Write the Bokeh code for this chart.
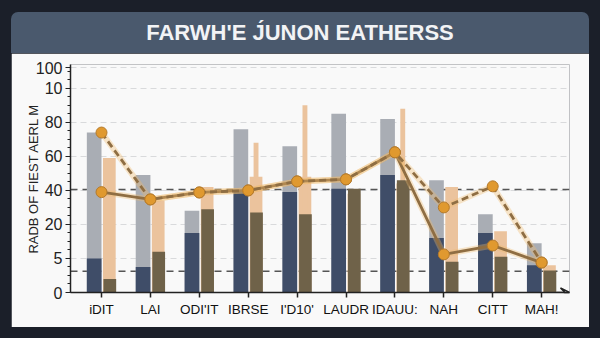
import numpy as np
from bokeh.plotting import figure
from bokeh.layouts import column
from bokeh.models import (Range1d, FixedTicker, Span, Arrow, VeeHead, Div)
from bokeh.embed import file_html
from bokeh.resources import INLINE

# ---------------- data ----------------
title_text = "FARWH'E J\u0301UNON EATHERSS"
y_title = "RADB OF FIEST AERL M"
categories = ["iDIT", "LAI", "ODI'IT", "IBRSE", "I'D10'", "LAUDR", "IDAUU:", "NAH", "CITT", "MAH!"]
gray_vals = [94, 69, 48, 96, 86, 105, 102, 66, 46, 29]
navy_vals = [20, 15, 35, 59, 59, 61, 69, 32, 35, 16]
peach_vals = [79, 54, 62, 68, 68, 58, 64, 62, 36, 16]
peach_peaks = [0, 0, 0, 88, 110, 0, 108, 0, 0, 0]
olive_vals = [8, 24, 49, 47, 46, 61, 66, 18, 21, 13]
line_a = [94, 54.7, 58.8, 60, 65.3, 66.5, 82.4, 50, 62.4, 17.6]
line_b = [59, 54.7, 58.8, 60, 65.3, 66.5, 82.4, 22.4, 27.6, 17.6]
y_tick_vals = [0, 20, 40, 60, 80, 100, 120, 132]
y_tick_labels = ["0", "5", "20", "40", "60", "80", "10", "100"]
ref_levels = [60.5, 12.5]

# ---------------- style ----------------
DARK_BG = "#1b1f29"
CARD = "#f9f9f9"
BAR_TITLE = "#4a596d"
GRAY = "#a9adb4"
NAVY = "#3f4d68"
PEACH = "#ebc39d"
OLIVE = "#6f6249"
LINE = "#8f6e43"
DOT = "#e0992f"

idx = np.arange(len(categories))
left_x = idx - 0.15
right_x = idx + 0.15

title_div = Div(text=title_text, width=578, height=41, margin=(12, 11, 0, 11),
                styles={"background-color": BAR_TITLE, "color": "#f2f3f5",
                        "font-family": "Liberation Sans", "font-size": "22px",
                        "font-weight": "bold", "text-align": "center",
                        "line-height": "41px", "border-radius": "7px 7px 0 0"})

p = figure(width=578, height=274, output_backend="svg", toolbar_location=None,
           x_range=Range1d(-0.634, 9.57), y_range=Range1d(0, 134),
           min_border_left=59, min_border_right=20, min_border_top=11, min_border_bottom=35,
           margin=(0, 11, 11, 11))
p.border_fill_color = CARD
p.background_fill_color = CARD
p.outline_line_color = None

# reference lines
for lv in ref_levels:
    p.add_layout(Span(location=lv, dimension="width", line_color="#555555", line_width=1.5,
                      line_dash="7 5", level="underlay"))

# bars
p.vbar(x=left_x, top=gray_vals, width=0.3, fill_color=GRAY, line_color=None)
p.vbar(x=left_x, top=navy_vals, width=0.3, fill_color=NAVY, line_color=None)
p.vbar(x=right_x + 0.01, top=peach_vals, width=0.26, fill_color=PEACH, line_color=None)
pk = [i for i, v in enumerate(peach_peaks) if v > 0]
p.vbar(x=[idx[i] + 0.16 for i in pk], top=[peach_peaks[i] for i in pk], width=0.1,
       fill_color=PEACH, line_color=None)
p.vbar(x=right_x + 0.02, top=olive_vals, width=0.26, fill_color=OLIVE, line_color=None)

# lines
for series, dash in ((line_b, "solid"), (line_a, "7 4")):
    p.line(idx, series, line_color="#f2b96a", line_width=6, line_alpha=0.35)
    p.line(idx, series, line_color=LINE, line_width=2.8, line_dash=dash)
    p.scatter(idx, series, size=11, fill_color=DOT, line_color="#b47a2c", line_width=1)

# axes
p.xaxis.ticker = FixedTicker(ticks=list(idx))
p.xaxis.major_label_overrides = {int(i): c for i, c in zip(idx, categories)}
p.xaxis.major_label_text_font = "Liberation Sans"
p.xaxis.major_label_text_font_size = "13.5px"
p.xaxis.major_label_text_color = "#111111"
p.xaxis.major_label_standoff = 4
p.xaxis.major_tick_out = 5
p.xaxis.major_tick_in = 0
p.xaxis.minor_tick_line_color = None
p.xaxis.axis_line_width = 1.5
p.xaxis.axis_line_color = "#222222"
p.xaxis.major_tick_line_color = "#222222"
p.xaxis.major_tick_line_width = 1.5

p.yaxis.ticker = FixedTicker(ticks=y_tick_vals, minor_ticks=list(range(0, 134, 5)))
p.yaxis.major_label_overrides = {v: l for v, l in zip(y_tick_vals, y_tick_labels)}
p.yaxis.major_label_text_font = "Liberation Sans"
p.yaxis.major_label_text_font_size = "16px"
p.yaxis.major_label_text_color = "#222222"
p.yaxis.major_label_standoff = 3
p.yaxis.major_tick_out = 5
p.yaxis.major_tick_in = 0
p.yaxis.minor_tick_out = 3
p.yaxis.minor_tick_in = 0
p.yaxis.axis_line_width = 1.5
p.yaxis.axis_line_color = "#222222"
p.yaxis.major_tick_line_color = "#222222"
p.yaxis.minor_tick_line_color = "#222222"
p.yaxis.axis_label = y_title
p.yaxis.axis_label_text_font = "Liberation Sans"
p.yaxis.axis_label_text_font_style = "normal"
p.yaxis.axis_label_text_font_size = "13px"
p.yaxis.axis_label_text_color = "#222222"
p.yaxis.axis_label_standoff = -8

p.add_layout(Arrow(end=VeeHead(size=9, line_color="#222222", line_width=1.5, fill_color=None),
                   x_start=9.3, x_end=9.57, y_start=0, y_end=0,
                   line_color="#222222", line_width=1.5))

p.xgrid.grid_line_color = None
p.ygrid.grid_line_color = "#d9dadc"
p.ygrid.grid_line_dash = "6 4"
p.ygrid.grid_line_width = 1

layout = column(title_div, p, width=600, height=338, margin=0, spacing=0,
                styles={"background-color": DARK_BG})

open("out.html", "w").write(file_html(layout, INLINE))
